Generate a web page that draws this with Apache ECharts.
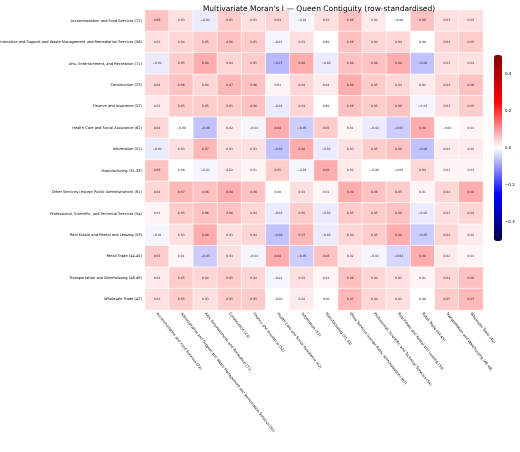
<!DOCTYPE html>
<html><head><meta charset="utf-8">
<script src="https://cdn.jsdelivr.net/npm/echarts@6/dist/echarts.min.js"></script>
<style>html,body{margin:0;padding:0;background:#fff}#c{width:520px;height:452px}</style>
</head><body><div id="c"></div>
<script>
const categories = [
"Accommodation and Food Services (72)",
"Administrative and Support and Waste Management and Remediation Services (56)",
"Arts, Entertainment, and Recreation (71)",
"Construction (23)",
"Finance and Insurance (52)",
"Health Care and Social Assistance (62)",
"Information (51)",
"Manufacturing (31-33)",
"Other Services (except Public Administration) (81)",
"Professional, Scientific, and Technical Services (54)",
"Real Estate and Rental and Leasing (53)",
"Retail Trade (44-45)",
"Transportation and Warehousing (48-49)",
"Wholesale Trade (42)"];
const r0 = [0.06,0.03,-0.02,0.05,0.03,0.04,-0.01,0.03,0.06,0.02,-0.00,0.06,0.03,0.03];
const r1 = [0.03,0.04,0.05,0.06,0.05,-0.01,0.03,0.00,0.06,0.04,0.04,0.00,0.04,0.05];
const r2 = [-0.02,0.05,0.08,0.04,0.05,-0.07,0.08,-0.02,0.06,0.06,0.08,-0.06,0.03,0.03];
const r3 = [0.04,0.06,0.04,0.07,0.06,0.01,0.04,0.02,0.08,0.05,0.04,0.02,0.04,0.06];
const r4 = [0.02,0.05,0.05,0.05,0.06,-0.02,0.04,0.00,0.06,0.05,0.06,-0.01,0.03,0.05];
const r5 = [0.04,-0.00,-0.06,0.02,-0.01,0.08,-0.05,0.05,0.01,-0.02,-0.05,0.08,-0.00,0.01];
const r6 = [-0.02,0.03,0.07,0.03,0.03,-0.06,0.08,-0.02,0.03,0.05,0.06,-0.06,0.02,0.02];
const r7 = [0.06,0.00,-0.01,0.02,0.01,0.05,-0.01,0.08,0.02,-0.00,-0.00,0.04,0.01,0.01];
const r8 = [0.04,0.07,0.06,0.08,0.06,0.00,0.03,0.01,0.08,0.06,0.05,0.01,0.04,0.08];
const r9 = [0.01,0.05,0.06,0.06,0.04,-0.02,0.05,-0.02,0.05,0.05,0.06,-0.02,0.03,0.04];
const r10 = [-0.01,0.03,0.08,0.03,0.04,-0.06,0.07,-0.02,0.04,0.05,0.08,-0.05,0.04,0.02];
const r11 = [0.05,0.01,-0.05,0.03,-0.01,0.08,-0.05,0.06,0.02,-0.01,-0.04,0.08,0.02,0.01];
const r12 = [0.02,0.05,0.04,0.05,0.04,-0.01,0.03,0.01,0.06,0.04,0.03,0.01,0.04,0.06];
const r13 = [0.03,0.05,0.03,0.05,0.05,-0.00,0.02,0.00,0.07,0.04,0.03,0.00,0.05,0.07];
const rows = [r0,r1,r2,r3,r4,r5,r6,r7,r8,r9,r10,r11,r12,r13];
const cbTicks = [-0.4,-0.2,0.0,0.2,0.4];

const data = [];
rows.forEach((r,i)=>r.forEach((v,j)=>data.push([j,i,v])));
const fmt2 = v => (v<0||Object.is(v,-0)) ? '\u2212'+Math.abs(v).toFixed(2) : v.toFixed(2);
const fmt1 = v => (v<0) ? '\u2212'+Math.abs(v).toFixed(1) : v.toFixed(1);

const chart = echarts.init(document.getElementById('c'));
chart.setOption({
  animation:false,
  textStyle:{fontFamily:'DejaVu Sans'},
  title:{text:"Multivariate Moran's I \u2014 Queen Contiguity (row-standardised)",left:314,top:0,textAlign:'center',
    textStyle:{fontSize:7.5,fontWeight:'normal',color:'#000'}},
  grid:[{left:145,right:37,top:10,bottom:142,outerBoundsMode:'none',containLabel:false},
        {left:494,width:8,top:55,height:186,outerBoundsMode:'none',containLabel:false}],
  xAxis:[{type:'category',data:categories,gridIndex:0,
    axisLine:{show:false},axisTick:{length:2,lineStyle:{color:'#000'}},
    axisLabel:{rotate:-52,fontSize:3.6,color:'#000',interval:0,margin:3}},
    {type:'value',gridIndex:1,show:false}],
  yAxis:[{type:'category',data:categories,inverse:true,gridIndex:0,
    axisLine:{show:false},axisTick:{length:2,lineStyle:{color:'#000'}},
    axisLabel:{fontSize:3.6,color:'#000',interval:0,margin:3}},
    {type:'value',gridIndex:1,min:-0.5,max:0.5,position:'right',
     name:"Moran's I",nameLocation:'middle',nameRotate:-90,nameGap:16,nameTextStyle:{fontSize:4,color:'#000'},
     axisLine:{show:false},splitLine:{show:false},
     axisTick:{show:true,length:2,customValues:cbTicks,lineStyle:{color:'#000'}},
     axisLabel:{fontSize:4,color:'#000',margin:3,customValues:cbTicks,formatter:v=>fmt1(v)}}],
  visualMap:{type:'continuous',min:-0.5,max:0.5,seriesIndex:0,calculable:false,
    left:494,top:55,itemWidth:8,itemHeight:186,text:['',''],showLabel:false,padding:0,
    inRange:{color:['#00004c','#0000ff','#ffffff','#ff0000','#800000']}},
  series:[{type:'heatmap',xAxisIndex:0,yAxisIndex:0,data:data,
    itemStyle:{borderColor:'#fff',borderWidth:0.6},
    label:{show:true,fontSize:3,color:'#222',formatter:p=>fmt2(p.value[2])}}]
});
</script></body></html>
